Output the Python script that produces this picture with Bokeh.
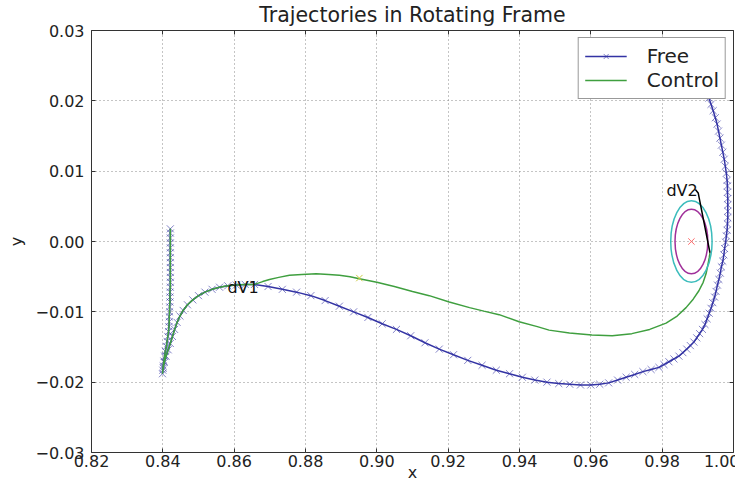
from bokeh.plotting import figure
from bokeh.models import FixedTicker, LinearAxis, Range1d, Legend, LegendItem, CustomLabelingPolicy
from bokeh.embed import file_html
from bokeh.resources import INLINE
from bokeh.core.properties import value

# ---------------- data ----------------
x_ticks = [0.82, 0.84, 0.86, 0.88, 0.90, 0.92, 0.94, 0.96, 0.98, 1.00]
x_tick_labels = ["0.82", "0.84", "0.86", "0.88", "0.90", "0.92", "0.94", "0.96", "0.98", "1.00"]
y_ticks = [-0.03, -0.02, -0.01, 0.0, 0.01, 0.02, 0.03]
y_tick_labels = ["\u22120.03", "\u22120.02", "\u22120.01", "0.00", "0.01", "0.02", "0.03"]

# common part (vertical leg + curve up to dV1)
approach_x = [0.8421, 0.8421, 0.8421, 0.8421, 0.8421, 0.8421, 0.8421, 0.8421, 0.8421, 0.8421,
              0.8421, 0.8421, 0.8421, 0.8420, 0.8420, 0.8420, 0.8419, 0.8419, 0.8418, 0.8418,
              0.8417, 0.8416, 0.8414, 0.8412, 0.8410, 0.8407, 0.8405, 0.8403, 0.8401, 0.8400,
              0.8399,
              0.8401, 0.8404, 0.8409, 0.8415, 0.8421, 0.8427, 0.8433, 0.8440, 0.8448, 0.8457,
              0.8469, 0.8484, 0.8500, 0.8518, 0.8538, 0.8559, 0.8582, 0.8606, 0.8631, 0.8657]
approach_y = [0.0018, 0.0012, 0.0005, -0.0002, -0.0009, -0.0016, -0.0023, -0.0030, -0.0037, -0.0044,
              -0.0051, -0.0058, -0.0065, -0.0072, -0.0079, -0.0086, -0.0093, -0.0100, -0.0107, -0.0114,
              -0.0121, -0.0128, -0.0135, -0.0142, -0.0149, -0.0156, -0.0163, -0.0170, -0.0177, -0.0183,
              -0.0188,
              -0.0180, -0.0172, -0.0163, -0.0154, -0.0145, -0.0135, -0.0125, -0.0115, -0.0106, -0.0098,
              -0.0090, -0.0083, -0.0077, -0.0072, -0.0068, -0.0065, -0.0063, -0.0062, -0.0061, -0.0061]

free_tail_x = [0.8695, 0.8735, 0.8775, 0.8815, 0.8855, 0.8895, 0.8935, 0.8975, 0.9015, 0.9055,
               0.9095, 0.9135, 0.9175, 0.9215, 0.9255, 0.9295, 0.9335, 0.9372, 0.9408, 0.9443,
               0.9477, 0.9510, 0.9541, 0.9571, 0.9600, 0.9625, 0.9650, 0.9675, 0.9699, 0.9723,
               0.9746, 0.9769, 0.9791,
               0.9805, 0.9819, 0.9833, 0.9847, 0.9858, 0.9869, 0.9879, 0.9889, 0.9897, 0.9905,
               0.9913, 0.9920, 0.9926, 0.9932, 0.9937, 0.9942, 0.9947, 0.9951, 0.9955, 0.9959,
               0.9963, 0.9966, 0.9970, 0.9973, 0.9975, 0.9978, 0.9980, 0.9982, 0.9983, 0.9984,
               0.9984, 0.9984, 0.9984, 0.9983, 0.9983, 0.9982, 0.9980, 0.9977, 0.9974, 0.9970,
               0.9966, 0.9962, 0.9958, 0.9954, 0.9949, 0.9943, 0.9937, 0.9931, 0.9925, 0.9919,
               0.9912, 0.9906, 0.9900, 0.9895, 0.9889, 0.9884]
free_tail_y = [-0.0064, -0.0068, -0.0072, -0.0077, -0.0084, -0.0092, -0.0100, -0.0108, -0.0117, -0.0125,
               -0.0134, -0.0144, -0.0153, -0.0161, -0.0169, -0.0176, -0.0183, -0.0188, -0.0193, -0.0197,
               -0.0200, -0.0202, -0.0203, -0.0204, -0.0204, -0.0203, -0.0201, -0.0197, -0.0193, -0.0189,
               -0.0185, -0.0182, -0.0179,
               -0.0175, -0.0171, -0.0167, -0.0163, -0.0158, -0.0153, -0.0148, -0.0143, -0.0137, -0.0131,
               -0.0125, -0.0118, -0.0110, -0.0102, -0.0095, -0.0087, -0.0079, -0.0071, -0.0062, -0.0054,
               -0.0045, -0.0036, -0.0028, -0.0019, -0.0010, -0.0001, 0.0008, 0.0016, 0.0025, 0.0034,
               0.0043, 0.0052, 0.0061, 0.0070, 0.0079, 0.0087, 0.0097, 0.0107, 0.0117, 0.0127,
               0.0137, 0.0147, 0.0157, 0.0167, 0.0176, 0.0186, 0.0195, 0.0204, 0.0213, 0.0222,
               0.0232, 0.0241, 0.0249, 0.0258, 0.0266, 0.0275]

ctrl_tail_x = [0.8680, 0.8699, 0.8725, 0.8755, 0.8790, 0.8830, 0.8865, 0.8895, 0.8925, 0.8951,
               0.9000, 0.9049, 0.9100, 0.9147, 0.9203, 0.9260, 0.9300, 0.9343, 0.9399, 0.9450,
               0.9483, 0.9540, 0.9603, 0.9660, 0.9715, 0.9765, 0.9811, 0.9842, 0.9867, 0.9887,
               0.9903, 0.9915, 0.9923, 0.9928, 0.9932, 0.9934]
ctrl_tail_y = [-0.0057, -0.0054, -0.0051, -0.0048, -0.0047, -0.0046, -0.0047, -0.0048, -0.0050, -0.0053,
               -0.0058, -0.0064, -0.0071, -0.0077, -0.0086, -0.0094, -0.0099, -0.0104, -0.0114, -0.0121,
               -0.0126, -0.0130, -0.0133, -0.0134, -0.0131, -0.0125, -0.0116, -0.0106, -0.0094, -0.0082,
               -0.0070, -0.0058, -0.0046, -0.0034, -0.0023, -0.0016]

free_x = approach_x + free_tail_x
free_y = approach_y + free_tail_y
ctrl_x = approach_x + ctrl_tail_x
ctrl_y = approach_y + ctrl_tail_y

dv2_x = [0.9934, 0.9901, 0.9893]
dv2_y = [-0.0016, 0.0069, 0.0074]

moon_x = [0.9882]
moon_y = [0.0]
inner_radius = 0.0046
outer_radius = 0.0058

mid_x = [0.8951]
mid_y = [-0.0052]

label_x = [0.8581, 0.9812]
label_y = [-0.0065, 0.0073]
label_text = ["dV1", "dV2"]

# ---------------- styling ----------------
FONT = "DejaVu Sans"
BLUE = "#3333a4"
GREEN = "#3f9f3f"
CYAN = "#3cbcbc"
MAGENTA = "#a0309a"
RED = "#ff6a6a"
YELLOW = "#cccc44"
DARK = "#333333"

p = figure(frame_width=642, frame_height=422,
           x_range=Range1d(0.82, 1.0), y_range=Range1d(-0.03, 0.03),
           output_backend="svg", toolbar_location=None,
           min_border_left=91, min_border_right=0, min_border_top=25, min_border_bottom=20,
           background_fill_color="white", border_fill_color="white")

p.title.text = "Trajectories in Rotating Frame"
p.title.align = "center"
p.title.text_font = FONT
p.title.text_font_size = "20.5px"
p.title.text_font_style = "normal"
p.title.text_color = "#222222"
p.title.standoff = 0

p.outline_line_color = DARK
p.outline_line_width = 1

for ax in (p.xaxis[0], p.yaxis[0]):
    ax.axis_line_color = None
    ax.major_tick_in = 4
    ax.major_tick_out = 0
    ax.minor_tick_in = 0
    ax.minor_tick_out = 0
    ax.major_tick_line_color = DARK
    ax.major_label_text_font = FONT
    ax.major_label_text_font_size = "16px"
    ax.major_label_text_color = "#222222"
    ax.axis_label_text_font = FONT
    ax.axis_label_text_font_size = "16px"
    ax.axis_label_text_font_style = "normal"
    ax.axis_label_text_color = "#222222"

p.xaxis.ticker = FixedTicker(ticks=x_ticks)
p.xaxis.major_label_overrides = dict(zip(x_ticks, x_tick_labels))
p.xaxis.major_label_standoff = 2
p.xaxis.axis_label = "x"
p.xaxis.axis_label_standoff = -7

p.yaxis.ticker = FixedTicker(ticks=y_ticks)
p.yaxis.major_label_overrides = dict(zip(y_ticks, y_tick_labels))
p.yaxis.major_label_standoff = 7
p.yaxis.axis_label = "y"
p.yaxis.axis_label_standoff = 6

hide_all = "const all = [...indices]; for (const i of all) indices.unset(i); return indices"
top_ax = LinearAxis(ticker=FixedTicker(ticks=x_ticks), major_label_text_font_size="1px",
                    major_label_policy=CustomLabelingPolicy(code=hide_all),
                    major_tick_in=4, major_tick_out=0, minor_tick_in=0, minor_tick_out=0,
                    axis_line_color=None, major_tick_line_color=DARK, major_label_standoff=0)
right_ax = LinearAxis(ticker=FixedTicker(ticks=y_ticks), major_label_text_font_size="1px",
                      major_label_policy=CustomLabelingPolicy(code=hide_all),
                      major_tick_in=4, major_tick_out=0, minor_tick_in=0, minor_tick_out=0,
                      axis_line_color=None, major_tick_line_color=DARK, major_label_standoff=0)
p.add_layout(top_ax, "above")
p.add_layout(right_ax, "right")

for g in (p.xgrid[0], p.ygrid[0]):
    g.grid_line_color = "#8a8a8a"
    g.grid_line_dash = "1 3"
    g.grid_line_width = 1

# trajectories
free_line = p.line(free_x, free_y, line_color=BLUE, line_width=1.5)
free_pts = p.scatter(free_x, free_y, marker="x", size=10, line_color=BLUE,
                     line_alpha=0.6, line_width=1)
ctrl_line = p.line(ctrl_x, ctrl_y, line_color=GREEN, line_width=1.5)

p.ellipse(x=moon_x, y=moon_y, width=2 * outer_radius, height=2 * outer_radius,
          fill_color=None, line_color=CYAN, line_width=1.5)
p.ellipse(x=moon_x, y=moon_y, width=2 * inner_radius, height=2 * inner_radius,
          fill_color=None, line_color=MAGENTA, line_width=1.5)
p.scatter(moon_x, moon_y, marker="x", size=9, line_color=RED, line_width=1)
p.scatter(mid_x, mid_y, marker="x", size=9, line_color=YELLOW, line_width=1)
p.line(dv2_x, dv2_y, line_color="black", line_width=1.5)

p.text(x=label_x, y=label_y, text=label_text, text_font=value(FONT), text_font_size="16px",
       text_baseline="alphabetic", text_align="left", text_color="#111111")

legend = Legend(items=[LegendItem(label="Free", renderers=[free_line, free_pts]),
                       LegendItem(label="Control", renderers=[ctrl_line])],
                location="top_right")
legend.label_text_font = FONT
legend.label_text_font_size = "20px"
legend.label_text_color = "#222222"
legend.glyph_width = 42
legend.glyph_height = 18
legend.label_standoff = 20
legend.padding = 6
legend.spacing = 0
legend.margin = 7
legend.border_line_color = DARK
legend.border_line_width = 1
legend.background_fill_alpha = 1.0
p.add_layout(legend)

open("out.html", "w").write(file_html(p, INLINE))
